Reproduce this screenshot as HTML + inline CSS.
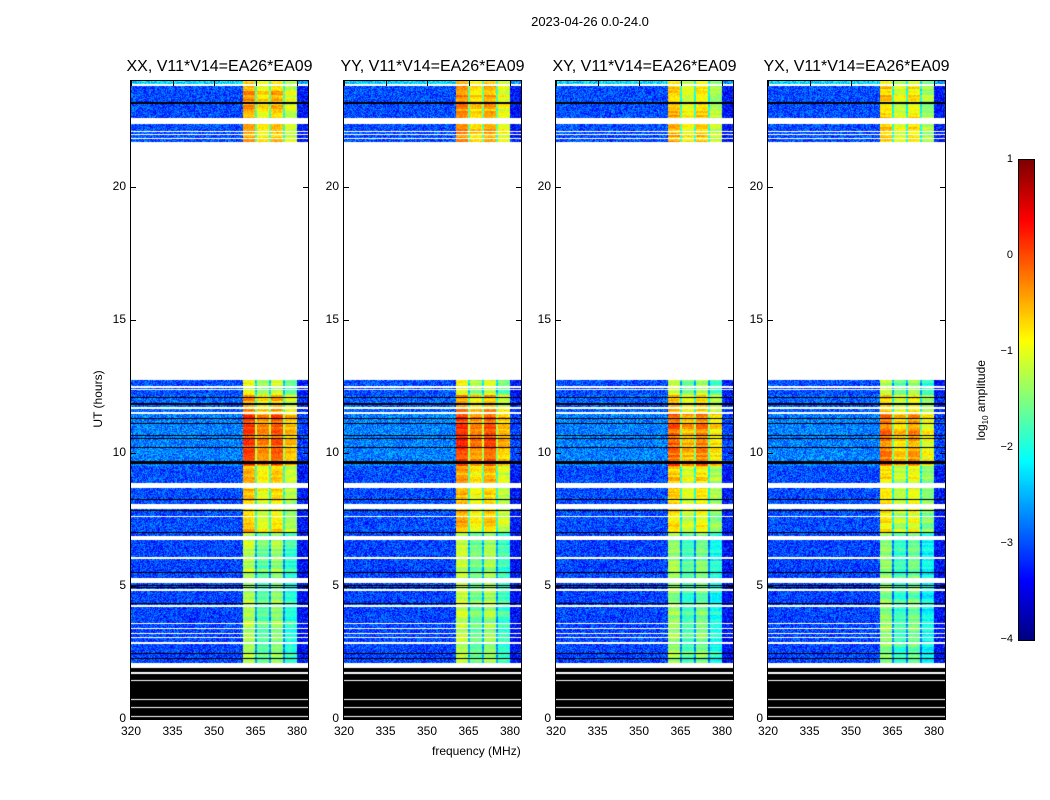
<!DOCTYPE html>
<html><head><meta charset="utf-8">
<style>
html,body{margin:0;padding:0;background:#fff;}
body{width:1050px;height:800px;position:relative;overflow:hidden;font-family:"Liberation Sans",sans-serif;color:#000;}
.t{position:absolute;white-space:nowrap;}
canvas{position:absolute;}
.frame{position:absolute;border:1px solid #000;box-sizing:border-box;}
</style></head>
<body>
<div class="t" style="left:0;width:1180px;top:14px;text-align:center;font-size:13px;">2023-04-26 0.0-24.0</div>
<div class="t" style="left:432px;top:744px;font-size:12px;">frequency (MHz)</div>
<div class="t" style="left:56px;top:392px;font-size:12px;transform:rotate(-90deg);width:84px;text-align:center;">UT (hours)</div>
<div id="root"></div>
<canvas id="cbar" width="15" height="480" style="left:1019px;top:160px;"></canvas>
<div class="frame" style="left:1018px;top:159px;width:17px;height:482px;"></div>
<div class="t" style="left:922px;top:392px;font-size:12px;transform:rotate(-90deg);width:120px;text-align:center;">log<sub style="font-size:8px">10</sub> amplitude</div>
<script>
// ---- data ----
const panelTitles = ["XX, V11*V14=EA26*EA09","YY, V11*V14=EA26*EA09","XY, V11*V14=EA26*EA09","YX, V11*V14=EA26*EA09"];
const panelBandOffset = [0, 0.05, -0.15, -0.25];
const xTicks = [320,335,350,365,380];
const yTicks = [0,5,10,15,20];
const cbarTicks = [1,0,-1,-2,-3,-4];
// white (no data) intervals, hours
const whiteRows = [[23.8,23.87],[22.37,22.6],[22.08,22.12],[21.98,22.02],[21.83,21.87],[12.74,21.7],[12.47,12.53],[12.37,12.42],[11.68,11.73],[11.48,11.53],[8.7,8.88],[7.9,8.1],[7.58,7.63],[6.73,6.88],[6.03,6.08],[5.1,5.3],[4.83,4.88],[4.23,4.28],[3.58,3.62],[3.4,3.44],[3.21,3.25],[3.03,3.07],[2.84,2.88],[1.9,2.1],[1.71,1.75],[1.44,1.48],[0.73,0.77],[0.43,0.47],[0.06,0.1]];
// black (flagged) intervals
const blackRows = [[0,1.9],[23.18,23.22],[23.13,23.16],[22.55,22.57],[22.4,22.42],[12.08,12.12],[11.83,11.87],[11.28,11.32],[11.08,11.12],[10.63,10.67],[10.53,10.57],[10.18,10.22],[9.6,9.72],[8.25,8.29],[7.83,7.87],[6.98,7.02],[5.48,5.52],[5.01,5.05],[4.94,4.98],[4.34,4.38],[2.46,2.5],[2.24,2.28]];
// data segments
const dataSegStart = [23.87, 21.7, 12.2, 11.5, 9.5, 8.9, 7.0, 2.1];
const dataSegEnd   = [24.0, 23.87, 12.74, 12.2, 11.5, 9.5, 8.9, 7.0];
const dataSegBase  = [-2.3, -3.0, -3.0, -2.9, -2.75, -3.0, -3.0, -3.05];
const dataSegBand  = [-0.9, -0.6, -1.2, -0.6, -0.15, -0.7, -0.75, -1.4];
// frequency channel shape per 0.5 MHz channel
const bandShape = {360.5:0.2,361:0.2,361.5:0.2,362:0.2,362.5:0.2,363:0.2,363.5:0.2,364:0.15,364.5:0.15,365:-1.1,
  365.5:-0.2,366:-0.2,366.5:-0.2,367:-0.2,367.5:-0.2,368:-0.2,368.5:-0.2,369:-0.2,369.5:-0.25,370:-1.1,
  370.5:0.05,371:0.05,371.5:0.05,372:0.05,372.5:0.05,373:0.05,373.5:0.05,374:0,374.5:0,375:-1.2,
  375.5:-0.45,376:-0.45,376.5:-0.45,377:-0.45,377.5:-0.45,378:-0.45,378.5:-0.5,379:-0.5,379.5:-0.55};
const edgeBase = {380:-0.3,380.5:-0.3,381:-0.3,381.5:-0.3,382:-0.3,382.5:-0.3,383:-0.3,383.5:-0.3};

// ---- geometry ----
const panelLeft = [131,344,556,768];
const PW=177, PT=81, PB=719;
const fx = f => (f-320)/60*166;
const hy = h => (PB-PT) - h*(PB-PT)/24;
const inv_x = px => 320 + px*60/166;
const inv_y = py => ((PB-PT)-py)*24/(PB-PT);

function jet(v){
  let t=(v+4)/5; t=Math.max(0,Math.min(1,t));
  const c=x=>Math.max(0,Math.min(1,x));
  const r=c(1.5-Math.abs(4*t-3)), g=c(1.5-Math.abs(4*t-2)), b=c(1.5-Math.abs(4*t-1));
  return [r*255|0,g*255|0,b*255|0];
}
function hash(a,b){let h=(a*374761393+b*668265263)|0;h=(h^(h>>>13))*1274126177|0;return ((h^(h>>>16))>>>0)/4294967296;}
const inIv=(h,arr)=>arr.some(s=>h>=s[0]&&h<s[1]);

const root=document.getElementById('root');
panelLeft.forEach((L,p)=>{
  const cv=document.createElement('canvas');
  cv.width=PW; cv.height=PB-PT;
  cv.style.left=L+'px'; cv.style.top=PT+'px';
  
  
  root.appendChild(cv);
  const ctx=cv.getContext('2d'); const img=ctx.createImageData(PW,PB-PT);
  for(let y=0;y<PB-PT;y++){
    const h=inv_y(y+0.5);
    let kind='w', seg=-1;
    if(inIv(h,whiteRows)) kind='w';
    else if(inIv(h,blackRows)) kind='k';
    else { for(let i=0;i<dataSegStart.length;i++){ if(h>=dataSegStart[i]&&h<dataSegEnd[i]){seg=i;kind='d';break;} } }
    const rowJit=(hash(y>>1,p+7)-0.5)*0.5;
    for(let x=0;x<PW;x++){
      const o=(y*PW+x)*4; let col;
      if(kind==='w') col=[255,255,255];
      else if(kind==='k') col=[0,0,0];
      else {
        const f=Math.floor(inv_x(x+0.5)*2)/2;
        const n=(hash(x,y*4+p)-0.5)*0.9;
        let v;
        if(bandShape[f]!==undefined) v=dataSegBand[seg]+panelBandOffset[p]+bandShape[f]+rowJit+n*0.4;
        else if(edgeBase[f]!==undefined) v=dataSegBase[seg]+edgeBase[f]+n;
        else v=dataSegBase[seg]+n;
        col=jet(v);
      }
      img.data[o]=col[0];img.data[o+1]=col[1];img.data[o+2]=col[2];img.data[o+3]=255;
    }
  }
  ctx.putImageData(img,0,0);
  const fr=document.createElement('div'); fr.className='frame';
  
  
  fr.style.cssText=`left:${L-1}px;top:${PT-1}px;width:${PW+2}px;height:${PB-PT+2}px;`;
  root.appendChild(fr);
  const ti=document.createElement('div'); ti.className='t';
  
  
  ti.style.cssText=`left:${L-40}px;width:${PW+80}px;text-align:center;top:58px;font-size:16px;`;
  ti.textContent=panelTitles[p]; root.appendChild(ti);
  xTicks.forEach(t=>{
    const X=L+fx(t);
    const lb=document.createElement('div'); lb.className='t';
    
    
    lb.style.cssText=`left:${X-20}px;width:40px;text-align:center;top:724px;font-size:12px;`;
    lb.textContent=t; root.appendChild(lb);
    const tk=document.createElement('div'); tk.className='t';
    
    
    tk.style.cssText=`left:${X}px;top:${PT}px;width:1px;height:5px;background:#000;`;
    root.appendChild(tk);
  });
  yTicks.forEach(t=>{
    const Y=PT+hy(t);
    const lb=document.createElement('div'); lb.className='t';
    
    
    lb.style.cssText=`left:${L-45}px;width:40px;text-align:right;top:${Y-8}px;font-size:12px;`;
    lb.textContent=t; root.appendChild(lb);
    [L, L+PW-5].forEach(xx=>{
      const tk=document.createElement('div'); tk.className='t';
      
      
      tk.style.cssText=`left:${xx}px;top:${Y}px;width:5px;height:1px;background:#000;`;
      root.appendChild(tk);
    });
  });
});
// colorbar
const cb=document.getElementById('cbar').getContext('2d');
for(let y=0;y<480;y++){const c=jet(1-y*5/480);cb.fillStyle=`rgb(${c[0]},${c[1]},${c[2]})`;cb.fillRect(0,y,15,1);}
cbarTicks.forEach(t=>{
  const Y=160+(1-t)*480/5;
  const lb=document.createElement('div'); lb.className='t';
  
  
  lb.style.cssText=`left:975px;width:38px;text-align:right;top:${Y-7}px;font-size:11px;`;
  lb.textContent=t<0?'\u2212'+(-t):t; root.appendChild(lb);
});
</script>
</body></html>
